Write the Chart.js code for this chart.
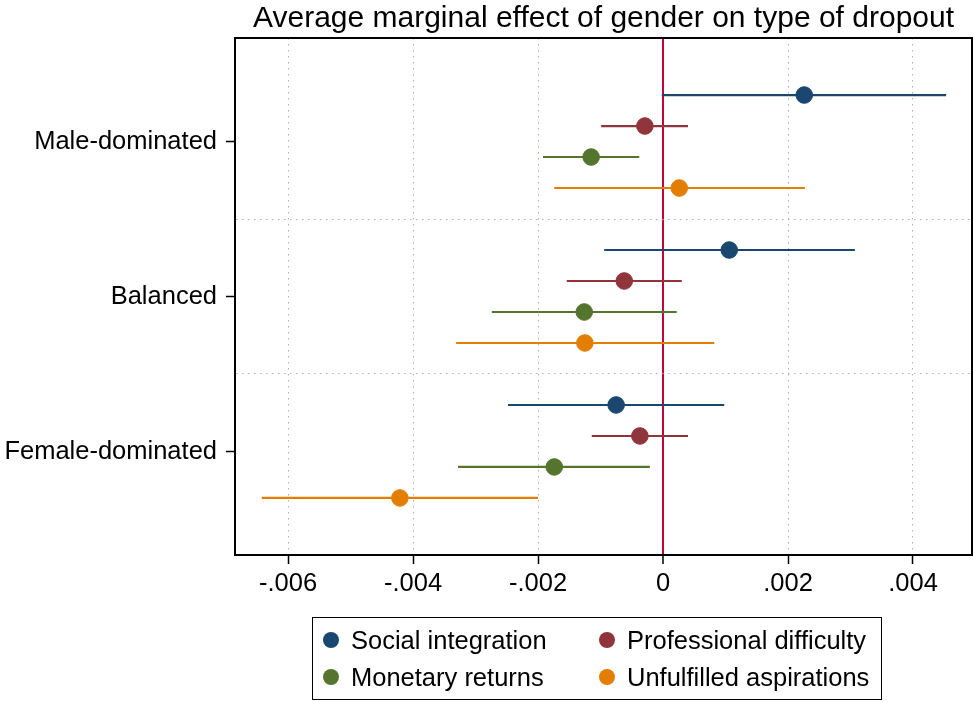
<!DOCTYPE html>
<html>
<head>
<meta charset="utf-8">
<script src="https://cdn.jsdelivr.net/npm/chart.js@4/dist/chart.umd.min.js"></script>
<style>
  html, body { margin: 0; padding: 0; background: #fff; }
  #wrap { position: relative; width: 974px; height: 702px; font-family: "Liberation Sans", Arial, sans-serif; }
  #legend {
    position: absolute; left: 312px; top: 617px; width: 570px; height: 83px;
    border: 1px solid #000; box-sizing: border-box;
    display: grid; grid-template-columns: 276px 1fr; align-content: center; row-gap: 8px;
    padding-left: 10px; font-size: 25.5px; line-height: 29px; color: #000;
  }
  .item { display: flex; align-items: center; }
  .dot { width: 16px; height: 16px; border-radius: 50%; margin-right: 12px; }
</style>
</head>
<body>
<div id="wrap">
  <canvas id="chart" width="974" height="702"></canvas>
  <div id="legend"></div>
</div>
<script>
// ── Data ──
const categories = ['Male-dominated', 'Balanced', 'Female-dominated'];
const seriesNames = ['Social integration', 'Professional difficulty', 'Monetary returns', 'Unfulfilled aspirations'];
const seriesColors = ['#1a476f', '#90353b', '#55752f', '#e37e00'];

const socialEst = [0.00226, 0.00106, -0.00075];
const socialLo  = [-0.00002, -0.00094, -0.00248];
const socialHi  = [0.00453, 0.00307, 0.00098];

const profEst = [-0.00029, -0.00062, -0.00037];
const profLo  = [-0.00099, -0.00154, -0.00114];
const profHi  = [0.00040, 0.00030, 0.00040];

const moneyEst = [-0.00115, -0.00126, -0.00174];
const moneyLo  = [-0.00192, -0.00274, -0.00328];
const moneyHi  = [-0.00038, 0.00022, -0.00021];

const aspirEst = [0.00026, -0.00125, -0.00421];
const aspirLo  = [-0.00174, -0.00331, -0.00642];
const aspirHi  = [0.00227, 0.00082, -0.00200];

const xTicks = [-0.006, -0.004, -0.002, 0, 0.002, 0.004];

// ── Build datasets ──
const est = [socialEst, profEst, moneyEst, aspirEst];
const lo = [socialLo, profLo, moneyLo, aspirLo];
const hi = [socialHi, profHi, moneyHi, aspirHi];
const offsets = [-0.3, -0.1, 0.1, 0.3];

const datasets = [];
seriesNames.forEach((name, s) => {
  datasets.push({
    type: 'scatter',
    label: name,
    data: categories.map((c, i) => ({ x: est[s][i], y: i + offsets[s] })),
    backgroundColor: seriesColors[s],
    borderColor: seriesColors[s],
    pointRadius: 8.3,
    pointHoverRadius: 8.3,
    order: 0
  });
  categories.forEach((c, i) => {
    datasets.push({
      type: 'line',
      label: name + ' CI',
      data: [{ x: lo[s][i], y: i + offsets[s] }, { x: hi[s][i], y: i + offsets[s] }],
      borderColor: seriesColors[s],
      borderWidth: 2.2,
      pointRadius: 0,
      order: 1
    });
  });
});

// ── Frame (top/right edges) ──
const framePlugin = {
  id: 'frame',
  afterDraw(chart) {
    const { ctx, chartArea: a } = chart;
    ctx.save();
    ctx.strokeStyle = '#000';
    ctx.lineWidth = 2;
    ctx.beginPath();
    ctx.moveTo(a.left, a.top);
    ctx.lineTo(a.right, a.top);
    ctx.lineTo(a.right, a.bottom);
    ctx.stroke();
    ctx.restore();
  }
};

const FONT = "'Liberation Sans', Arial, sans-serif";

new Chart(document.getElementById('chart'), {
  data: { datasets },
  options: {
    responsive: false,
    animation: false,
    events: [],
    layout: { autoPadding: false, padding: { left: 0, right: 2, top: 0, bottom: 87 } },
    plugins: {
      legend: { display: false },
      tooltip: { enabled: false },
      title: {
        display: true,
        fullSize: false,
        text: 'Average marginal effect of gender on type of dropout',
        color: '#000',
        font: { family: FONT, size: 30, weight: 'normal', lineHeight: 1.2 },
        padding: { top: 1, bottom: 1 }
      }
    },
    scales: {
      x: {
        type: 'linear',
        min: -0.006848,
        max: 0.004944,
        afterBuildTicks: scale => { scale.ticks = xTicks.map(v => ({ value: v })); },
        afterFit: scale => { scale.height = 60; scale.paddingLeft = 0; scale.paddingRight = 0; },
        ticks: {
          color: '#000',
          font: { family: FONT, size: 25.5 },
          padding: 5,
          callback: v => v === 0 ? '0' : v.toFixed(3).replace('0.', '.')
        },
        grid: {
          color: ctx => ctx.tick && ctx.tick.value === 0 ? '#c10534' : '#b0b0b0',
          lineWidth: ctx => ctx.tick && ctx.tick.value === 0 ? 2 : 1,
          tickColor: '#000',
          tickLength: 9,
          tickWidth: 1.5,
          tickBorderDash: []
        },
        border: {
          display: true, color: '#000', width: 2,
          dash: ctx => ctx.tick && ctx.tick.value === 0 ? [] : [1.5, 4.5]
        }
      },
      y: {
        type: 'linear',
        reverse: true,
        min: -0.668,
        max: 2.668,
        afterBuildTicks: scale => { scale.ticks = [0, 0.5, 1, 1.5, 2].map(v => ({ value: v })); },
        afterFit: scale => { scale.width = 235; },
        ticks: {
          color: '#000',
          font: { family: FONT, size: 25.5 },
          padding: 9,
          callback: v => Number.isInteger(v) ? categories[v] : ''
        },
        grid: {
          color: ctx => ctx.tick && Number.isInteger(ctx.tick.value) ? 'rgba(0,0,0,0)' : '#b0b0b0',
          tickColor: ctx => ctx.tick && Number.isInteger(ctx.tick.value) ? '#000' : 'rgba(0,0,0,0)',
          tickLength: 9,
          tickWidth: 1.5,
          tickBorderDash: []
        },
        border: { display: true, color: '#000', width: 2, dash: [1.5, 4.5] }
      }
    }
  },
  plugins: [framePlugin]
});

// ── Legend ──
document.getElementById('legend').innerHTML = seriesNames.map((n, i) =>
  `<div class="item"><span class="dot" style="background:${seriesColors[i]}"></span>${n}</div>`
).join('');
</script>
</body>
</html>
